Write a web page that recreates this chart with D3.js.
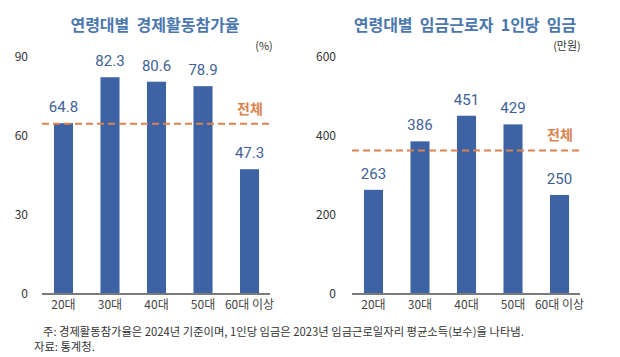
<!DOCTYPE html>
<html><head><meta charset="utf-8">
<script src="https://cdn.jsdelivr.net/npm/d3@7"></script>
<style>
body{margin:0;background:#fff;}
svg{display:block;font-family:"Noto Sans CJK KR","Noto Sans",sans-serif;}
</style></head>
<body><svg id="c" width="620" height="357"></svg>
<script>
const categories = ["20대","30대","40대","50대","60대 이상"];
const participation = [64.8, 82.3, 80.6, 78.9, 47.3];
const participationTotal = 64.6;
const participationTicks = [0, 30, 60, 90];
const wages = [263, 386, 451, 429, 250];
const wagesTotal = 363;
const wageTicks = [0, 200, 400, 600];
const titles = ["연령대별  경제활동참가율", "연령대별  임금근로자  1인당  임금"];
const units = ["(%)", "(만원)"];
const notes = ["주: 경제활동참가율은 2024년 기준이며, 1인당 임금은 2023년 임금근로일자리 평균소득(보수)을 나타냄.", "자료: 통계청."];

const svg = d3.select("#c");
const barColor = "#3d63a5", labelColor = "#3f5f96", orange = "#d9834f";

function panel(ox, values, total, ticks, title, unit, fmt, unitX) {
  const g = svg.append("g").attr("transform", `translate(${ox},0)`);
  const x = d3.scaleBand().domain(categories).range([40, 273]).paddingInner(0.59).paddingOuter(0.3);
  const y = d3.scaleLinear().domain([0, ticks[ticks.length-1]]).range([293.5, 57]);
  g.selectAll(".tk").data(ticks).join("text")
    .attr("x", ox === 0 ? 28 : 26).attr("y", d => y(d)).attr("dy", "0.35em")
    .attr("text-anchor", "end").attr("font-size", 12).attr("fill", "#333")
    .text(d => d);
  g.selectAll(".bar").data(values).join("rect")
    .attr("x", (d,i) => x(categories[i])).attr("width", x.bandwidth())
    .attr("y", d => y(d)).attr("height", d => y(0) - y(d)).attr("fill", barColor);
  g.append("line").attr("x1", 42).attr("x2", 270).attr("y1", y(0)+0.5).attr("y2", y(0)+0.5)
    .attr("stroke", "#7a7a7a").attr("stroke-width", 2);
  g.append("line").attr("x1", 42).attr("x2", 272).attr("y1", y(total)).attr("y2", y(total))
    .attr("stroke", orange).attr("stroke-width", 2).attr("stroke-dasharray", "7,4");
  g.append("text").attr("x", 250).attr("y", y(total) - 10).attr("text-anchor", "middle")
    .attr("font-size", 14).attr("font-weight", "bold").attr("fill", orange).text("전체");
  g.selectAll(".vl").data(values).join("text")
    .attr("x", (d,i) => x(categories[i]) + x.bandwidth()/2).attr("y", d => y(d) - 11)
    .attr("text-anchor", "middle").attr("font-size", 15).attr("fill", labelColor)
    .attr("font-family", "Roboto, sans-serif")
    .text(d => fmt(d));
  g.selectAll(".cl").data(categories).join("text")
    .attr("x", d => x(d) + x.bandwidth()/2).attr("y", 305).attr("dy", "0.35em")
    .attr("text-anchor", "middle").attr("font-size", 12).attr("fill", "#444").text(d => d);
  g.append("text").attr("x", 155).attr("y", 25).attr("dy", "0.35em").attr("text-anchor", "middle")
    .attr("font-size", 16).attr("font-weight", "bold").attr("fill", "#4a77ae")
    .attr("xml:space", "preserve").style("white-space", "pre").text(title);
  g.append("text").attr("x", unitX).attr("y", 46).attr("dy", "0.35em").attr("text-anchor", "middle")
    .attr("font-size", 11).attr("fill", "#333").text(unit);
}
panel(0, participation, participationTotal, participationTicks, titles[0], units[0], d => d.toFixed(1), 264);
panel(310, wages, wagesTotal, wageTicks, titles[1], units[1], d => String(d), 257);

svg.append("text").attr("x", 43).attr("y", 332).attr("dy", "0.35em").attr("font-size", 11.3).attr("fill", "#333").text(notes[0]);
svg.append("text").attr("x", 34).attr("y", 347).attr("dy", "0.35em").attr("font-size", 11.3).attr("fill", "#333").text(notes[1]);
</script></body></html>
